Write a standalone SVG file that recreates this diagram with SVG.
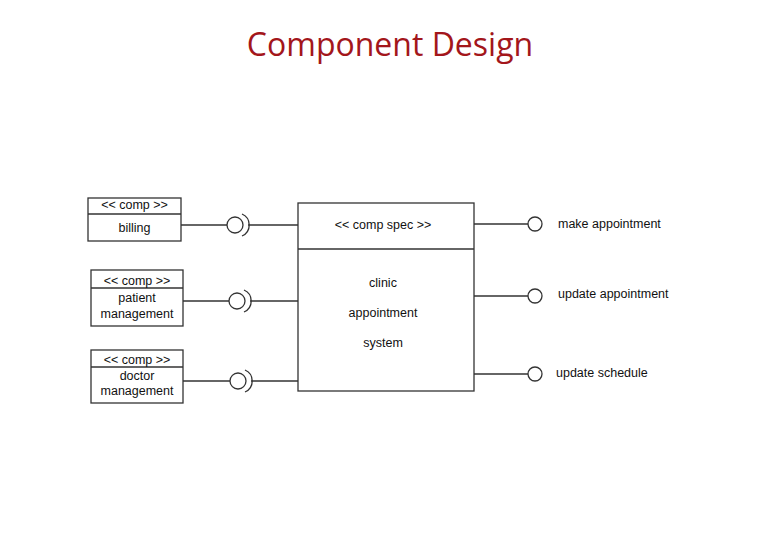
<svg xmlns="http://www.w3.org/2000/svg" width="780" height="540" viewBox="0 0 780 540">
<style>
.b{fill:#fff;stroke:#333;stroke-width:1.3}
.l{stroke:#333;stroke-width:1.3;fill:none}
text{font-family:"Liberation Sans",Arial,sans-serif;font-size:12.5px;fill:#111}
.c{text-anchor:middle}
</style>
<rect width="780" height="540" fill="#fff"/>
<text x="390" y="56" class="c" style="font-family:'Open Sans',sans-serif;font-size:32px;fill:#a3161b">Component Design</text>
<g id="billing"><rect class="b" x="88" y="198" width="93" height="43"/><line class="l" x1="88" y1="214" x2="181" y2="214"/><text x="134.5" y="209" class="c">&lt;&lt; comp &gt;&gt;</text><text x="134.5" y="232" class="c">billing</text></g>
<g id="patient"><rect class="b" x="91" y="270" width="92" height="56"/><line class="l" x1="91" y1="288" x2="183" y2="288"/><text x="137" y="285" class="c">&lt;&lt; comp &gt;&gt;</text><text x="137" y="302" class="c">patient</text><text x="137" y="318" class="c">management</text></g>
<g id="doctor"><rect class="b" x="91" y="350" width="92" height="53"/><line class="l" x1="91" y1="367" x2="183" y2="367"/><text x="137" y="364" class="c">&lt;&lt; comp &gt;&gt;</text><text x="137" y="380" class="c">doctor</text><text x="137" y="395" class="c">management</text></g>
<g id="system"><rect class="b" x="298" y="203" width="176" height="188"/><line class="l" x1="298" y1="249" x2="474" y2="249"/><text x="383" y="229" class="c">&lt;&lt; comp  spec &gt;&gt;</text><text x="383" y="287" class="c">clinic</text><text x="383" y="317" class="c">appointment</text><text x="383" y="347" class="c">system</text></g>
<g id="connectors">
<line class="l" x1="181" y1="225" x2="227" y2="225"/><circle class="l" cx="235" cy="225" r="8"/><path class="l" d="M242 214 A12 12 0 0 1 242 236"/><line class="l" x1="248" y1="225" x2="298" y2="225"/>
<line class="l" x1="183" y1="301" x2="229" y2="301"/><circle class="l" cx="237" cy="301" r="8"/><path class="l" d="M244 290 A12 12 0 0 1 244 312"/><line class="l" x1="250" y1="301" x2="298" y2="301"/>
<line class="l" x1="183" y1="381" x2="230" y2="381"/><circle class="l" cx="238" cy="381" r="8"/><path class="l" d="M245 370 A12 12 0 0 1 245 392"/><line class="l" x1="251" y1="381" x2="298" y2="381"/>
<line class="l" x1="474" y1="224" x2="528" y2="224"/><circle class="l" cx="535" cy="224" r="7"/>
<line class="l" x1="474" y1="296" x2="528" y2="296"/><circle class="l" cx="535" cy="296" r="7"/>
<line class="l" x1="474" y1="374" x2="528" y2="374"/><circle class="l" cx="535" cy="374" r="7"/>
</g>
<g id="labels"><text x="558" y="228">make appointment</text><text x="558" y="298">update appointment</text><text x="556" y="377">update schedule</text></g>
</svg>
